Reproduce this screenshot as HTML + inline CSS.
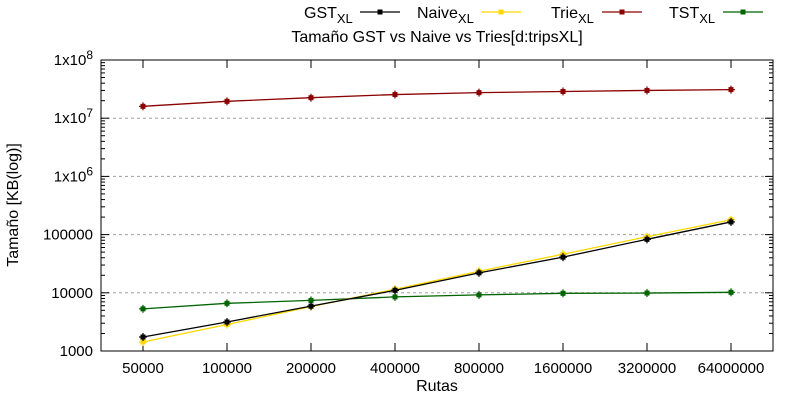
<!DOCTYPE html>
<html><head><meta charset="utf-8"><style>
body{margin:0;background:#fff;}
svg{display:block;font-family:"Liberation Sans",Arial,sans-serif;}
</style></head><body>
<svg id="chart" width="800" height="400" viewBox="0 0 800 400" xmlns="http://www.w3.org/2000/svg"></svg>
<script>
const categories=["50000","100000","200000","400000","800000","1600000","3200000","64000000"];
const gstValues=[1740,3150,5900,11000,22000,41000,83000,165000];
const naiveValues=[1430,2850,5800,11500,23500,46000,92000,180000];
const trieValues=[16000000,19500000,22500000,25500000,27500000,28800000,30000000,31000000];
const tstValues=[5300,6600,7400,8500,9200,9800,9900,10200];
const yTickValues=[1000,10000,100000,1000000,10000000,100000000];
const yTickLabels=["1000","10000","100000","1x10^6","1x10^7","1x10^8"];

const NS="http://www.w3.org/2000/svg";
const svg=document.getElementById('chart');
const L=101,R=773,T=60,B=351;
function xPos(i){return 143+i*84;}
function yPos(v){return B-(Math.log10(v)-3)/5*(B-T);}
function mk(tag,attrs,parent){const e=document.createElementNS(NS,tag);for(const k in attrs)e.setAttribute(k,attrs[k]);(parent||svg).appendChild(e);return e;}

yTickValues.forEach((v,i)=>{
  const y=yPos(v);
  if(i>0&&i<yTickValues.length-1){
    const g=mk('line',{x1:L,x2:R,y1:y,y2:y,stroke:'#a0a0a0','stroke-dasharray':'3,3','stroke-width':1});
    
    
  }
  const t=mk('text',{x:L-8,y:y+5,'text-anchor':'end','font-size':15,fill:'#000'});
  
  
  const lab=yTickLabels[i];
  if(lab.includes('^')){const p=lab.split('^');t.textContent=p[0];const s=mk('tspan',{dy:-6,'font-size':12},t);s.textContent=p[1];}
  else t.textContent=lab;
  mk('line',{x1:L,x2:L+8,y1:y,y2:y,stroke:'#000'});
  mk('line',{x1:R,x2:R-8,y1:y,y2:y,stroke:'#000'});
  if(i<yTickValues.length-1){
    for(let m=2;m<10;m++){const ym=yPos(v*m);mk('line',{x1:L,x2:L+4,y1:ym,y2:ym,stroke:'#000'});mk('line',{x1:R,x2:R-4,y1:ym,y2:ym,stroke:'#000'});}
  }
});
categories.forEach((c,i)=>{
  const x=xPos(i);
  mk('line',{x1:x,x2:x,y1:B,y2:B-8,stroke:'#000'});
  mk('line',{x1:x,x2:x,y1:T,y2:T+8,stroke:'#000'});
  const t=mk('text',{x:x,y:B+22,'text-anchor':'middle','font-size':15,fill:'#000'});
  
  
  t.textContent=c;
});
const frame=mk('rect',{x:L,y:T,width:R-L,height:B-T,fill:'none',stroke:'#000','stroke-width':1});



function series(vals,color,name){
  const g=mk('g',{});
  
  
  const pts=vals.map((v,i)=>xPos(i)+','+yPos(v)).join(' ');
  mk('polyline',{points:pts,fill:'none',stroke:color,'stroke-width':1.3},g);
  vals.forEach((v,i)=>{
    const x=xPos(i),y=yPos(v);
    const p=mk('rect',{x:x-2.5,y:y-2.5,width:5,height:5,fill:color},g);
    
    
    mk('line',{x1:x,x2:x,y1:y-4,y2:y+4,stroke:color,'stroke-width':1.2},g);
    mk('line',{x1:x-4,x2:x+4,y1:y,y2:y,stroke:color,'stroke-width':1.2},g);
  });
}
series(tstValues,'#006400','tst-series');
series(trieValues,'#8b0000','trie-series');
series(naiveValues,'#ffd700','naive-series');
series(gstValues,'#000000','gst-series');

const leg=[["GST","#000000",304,360],["Naive","#ffd700",417,481],["Trie","#8b0000",551,602],["TST","#006400",669,723]];
leg.forEach(l=>{
  const g=mk('g',{});
  
  
  const t=mk('text',{x:l[2],y:18,'text-anchor':'start','font-size':16,fill:'#000'},g);
  t.textContent=l[0];
  const s=mk('tspan',{dy:5,'font-size':13},t);s.textContent='XL';
  mk('line',{x1:l[3],x2:l[3]+40,y1:12,y2:12,stroke:l[1],'stroke-width':1.3},g);
  mk('rect',{x:l[3]+17.5,y:9.5,width:5,height:5,fill:l[1]},g);
});
const title=mk('text',{x:437,y:42,'text-anchor':'middle','font-size':16,fill:'#000'});


title.textContent='Tamaño GST vs Naive vs Tries[d:tripsXL]';
const xt=mk('text',{x:437,y:391,'text-anchor':'middle','font-size':16,fill:'#000'});


xt.textContent='Rutas';
const yt=mk('text',{x:0,y:0,'text-anchor':'middle','font-size':16,fill:'#000',transform:'translate(18,205) rotate(-90)'});


yt.textContent='Tamaño [KB(log)]';
</script>
</body></html>
